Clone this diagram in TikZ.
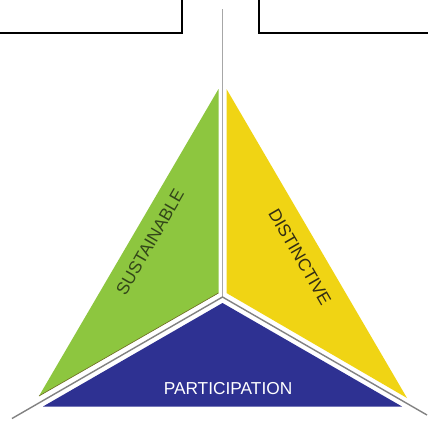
\documentclass[tikz,border=0pt]{standalone}
\usepackage{fontspec}
\setmainfont{Liberation Sans}
\definecolor{tgreen}{RGB}{141,198,63}
\definecolor{tyellow}{RGB}{240,212,20}
\definecolor{tblue}{RGB}{46,49,146}
\definecolor{tgreentext}{RGB}{50,70,25}
\definecolor{tyellowtext}{RGB}{50,45,20}
\definecolor{tline}{RGB}{130,130,130}
\tikzset{
  boxline/.style={draw=black,line width=1.5pt},
  sepline/.style={draw=tline,line width=1.4pt},
  lbl/.style={font=\fontsize{17.3}{20}\selectfont,inner sep=0pt},
}
\begin{document}
\begin{tikzpicture}[x=1pt,y=-1pt]
\useasboundingbox (0,0) rectangle (428,421);
\fill[white] (0,0) rectangle (428,421);
% top boxes
\draw[boxline] (182,0) -- (182,33) -- (0,33);
\draw[boxline] (259,0) -- (259,33) -- (428,33);
% shapes
\fill[tgreen] (218.5,89) -- (218.5,293) -- (39,396) -- cycle;
\draw[olive!70!black,line width=0.6pt] (218.5,293) -- (39,396);
\fill[tyellow] (226.5,89) -- (226.5,293) -- (407,398) -- cycle;
\fill[tblue] (222.5,303) -- (402,406.5) -- (43,406.5) -- cycle;
% separator lines
\coordinate (c) at (222.5,297);
\coordinate (top) at (222.5,9);
\coordinate (bl) at (12,418.5);
\coordinate (br) at (427,415);
\draw[sepline,draw=tline!70] (top) -- (c);
\draw[sepline] (bl) -- (c) -- (br);
% labels
\node[lbl,text=tgreentext,rotate=60] (sus) at (150,242) {SUSTAINABLE};
\node[lbl,text=tyellowtext,rotate=-60] (dis) at (300,257) {DISTINCTIVE};
\node[lbl,text=white] (par) at (228,388.5) {PARTICIPATION};
\end{tikzpicture}
\end{document}
